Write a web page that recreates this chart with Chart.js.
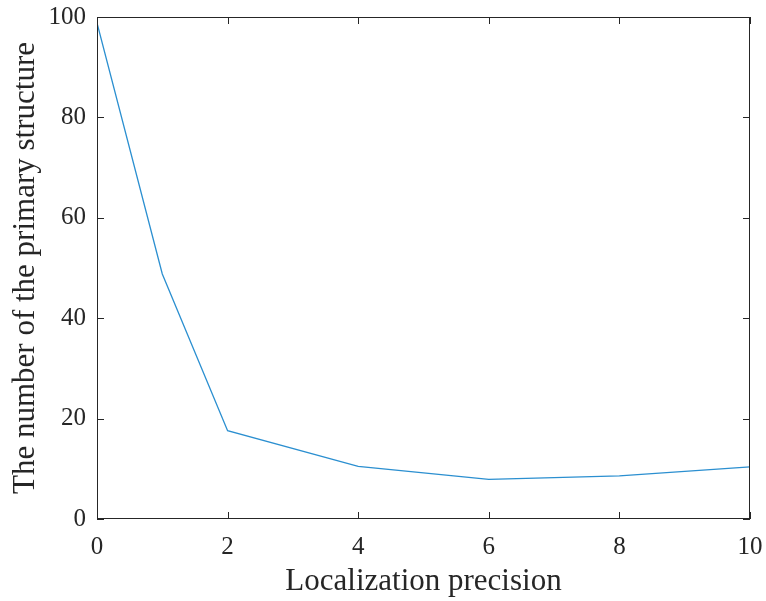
<!DOCTYPE html>
<html>
<head>
<meta charset="utf-8">
<script src="https://cdn.jsdelivr.net/npm/chart.js@4.4.0/dist/chart.umd.min.js"></script>
<style>
  html, body { margin: 0; padding: 0; background: #fff; }
  #wrap { width: 766px; height: 601px; }
</style>
</head>
<body>
<div id="wrap"><canvas id="c"></canvas></div>
<script>
// values
const precision = [0, 1, 2, 4, 6, 8, 10];
const primaryCount = [98.8, 48.8, 17.6, 10.5, 7.9, 8.6, 10.4];
const xTicks = [0, 2, 4, 6, 8, 10];
const yTicks = [0, 20, 40, 60, 80, 100];

const axisColor = '#262626';
const fontFamily = '"Liberation Serif", "Times New Roman", serif';

// MATLAB-style box with inward ticks on all sides
const boxTicks = {
  id: 'boxTicks',
  afterDraw(chart) {
    const { ctx, chartArea: a, scales } = chart;
    const len = 7;
    ctx.save();
    ctx.strokeStyle = axisColor;
    ctx.lineWidth = 1;
    ctx.strokeRect(a.left + 0.5, a.top + 0.5, a.right - a.left - 1, a.bottom - a.top - 1);
    ctx.beginPath();
    xTicks.forEach(v => {
      const x = Math.round(scales.x.getPixelForValue(v)) + 0.5;
      ctx.moveTo(x, a.bottom); ctx.lineTo(x, a.bottom - len);
      ctx.moveTo(x, a.top); ctx.lineTo(x, a.top + len);
    });
    yTicks.forEach(v => {
      const y = Math.round(scales.y.getPixelForValue(v)) + 0.5;
      ctx.moveTo(a.left, y); ctx.lineTo(a.left + len, y);
      ctx.moveTo(a.right, y); ctx.lineTo(a.right - len, y);
    });
    ctx.stroke();
    ctx.restore();
  }
};

new Chart(document.getElementById('c'), {
  type: 'scatter',
  data: {
    datasets: [{
      data: precision.map((p, i) => ({ x: p, y: primaryCount[i] })),
      showLine: true,
      borderColor: '#2b8fd0',
      borderWidth: 1.3,
      pointRadius: 0,
      tension: 0
    }]
  },
  options: {
    responsive: true,
    maintainAspectRatio: false,
    animation: false,
    layout: { padding: { top: 17, right: 16, left: 0, bottom: 0 } },
    plugins: { legend: { display: false }, tooltip: { enabled: false } },
    scales: {
      x: {
        type: 'linear',
        min: 0, max: 10,
        afterBuildTicks: s => { s.ticks = xTicks.map(v => ({ value: v })); },
        afterFit: s => { s.height = 82; s.paddingLeft = 0; s.paddingRight = 0; },
        grid: { display: false, drawTicks: false },
        border: { display: false },
        ticks: { color: axisColor, padding: 13, font: { family: fontFamily, size: 25 }, maxRotation: 0 },
        title: { display: true, text: 'Localization precision', color: axisColor, padding: { top: 3, bottom: 1 }, font: { family: fontFamily, size: 31 } }
      },
      y: {
        min: 0, max: 100,
        afterBuildTicks: s => { s.ticks = yTicks.map(v => ({ value: v })); },
        afterFit: s => { s.width = 97; s.paddingTop = 0; s.paddingBottom = 0; },
        grid: { display: false, drawTicks: false },
        border: { display: false },
        ticks: { color: axisColor, padding: 11, font: { family: fontFamily, size: 25 } },
        title: { display: true, text: 'The number of the primary structure', color: axisColor, padding: { top: 7, bottom: 0 }, font: { family: fontFamily, size: 31 } }
      }
    }
  },
  plugins: [boxTicks]
});
</script>
</body>
</html>
